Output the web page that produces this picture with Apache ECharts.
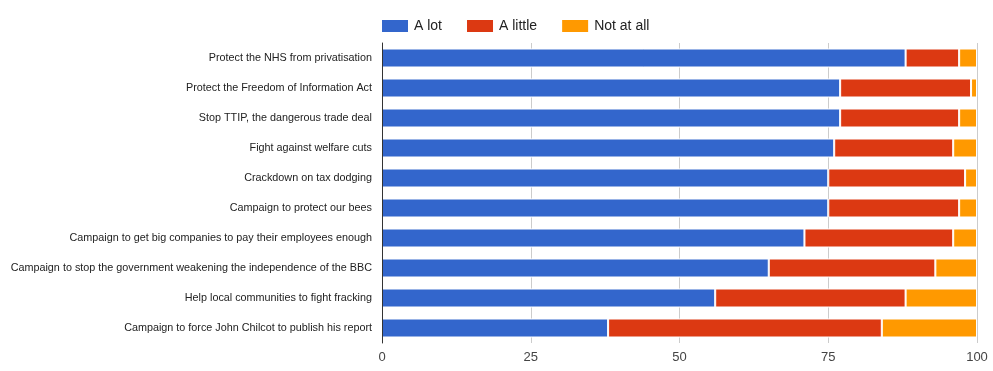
<!DOCTYPE html>
<html><head><meta charset="utf-8">
<script src="https://cdn.jsdelivr.net/npm/echarts@6/dist/echarts.min.js"></script>
<style>html,body{margin:0;padding:0;background:#fff}#c{width:993px;height:371px}</style>
</head><body><div id="c"></div>
<script>
const categories = [
  "Protect the NHS from privatisation",
  "Protect the Freedom of Information Act",
  "Stop TTIP, the dangerous trade deal",
  "Fight against welfare cuts",
  "Crackdown on tax dodging",
  "Campaign to protect our bees",
  "Campaign to get big companies to pay their employees enough",
  "Campaign to stop the government weakening the independence of the BBC",
  "Help local communities to fight fracking",
  "Campaign to force John Chilcot to publish his report"
];
const aLot = [88, 77, 77, 76, 75, 75, 71, 65, 56, 38];
const aLittle = [9, 22, 20, 20, 23, 22, 25, 28, 32, 46];
const notAtAll = [3, 1, 3, 4, 2, 3, 4, 7, 12, 16];
const xTicks = [0, 25, 50, 75, 100];

const chart = echarts.init(document.getElementById('c'));
const font = 'Arial, "Liberation Sans", sans-serif';
function s(name, data, color) {
  return {name, type: 'bar', stack: 'total', data, barWidth: 19, z: 2,
    itemStyle: {color, borderColor: '#fff', borderWidth: 1}};
}
chart.setOption({
  animation: false,
  textStyle: {fontFamily: font},
  legend: {
    left: 380, top: 18, padding: 0, itemWidth: 28, itemHeight: 14, itemGap: 23,
    icon: 'rect',
    textStyle: {fontSize: 14, color: '#222', fontFamily: font},
    data: ['A lot', 'A little', 'Not at all']
  },
  grid: {left: 382, right: 16, top: 43, height: 300, containLabel: false},
  xAxis: {
    type: 'value', min: xTicks[0], max: xTicks[xTicks.length - 1], interval: 25,
    axisLine: {show: false}, axisTick: {show: false},
    splitLine: {lineStyle: {color: '#cccccc'}},
    axisLabel: {fontSize: 13, color: '#444', fontFamily: font, margin: 8}
  },
  yAxis: {
    type: 'category', data: categories, inverse: true, z: 10,
    axisLine: {lineStyle: {color: '#333'}}, axisTick: {show: false},
    axisLabel: {fontSize: 10.8, color: '#222', fontFamily: font, margin: 10}
  },
  series: [
    s('A lot', aLot, '#3366cc'),
    s('A little', aLittle, '#dc3912'),
    s('Not at all', notAtAll, '#ff9900')
  ]
});
</script></body></html>
